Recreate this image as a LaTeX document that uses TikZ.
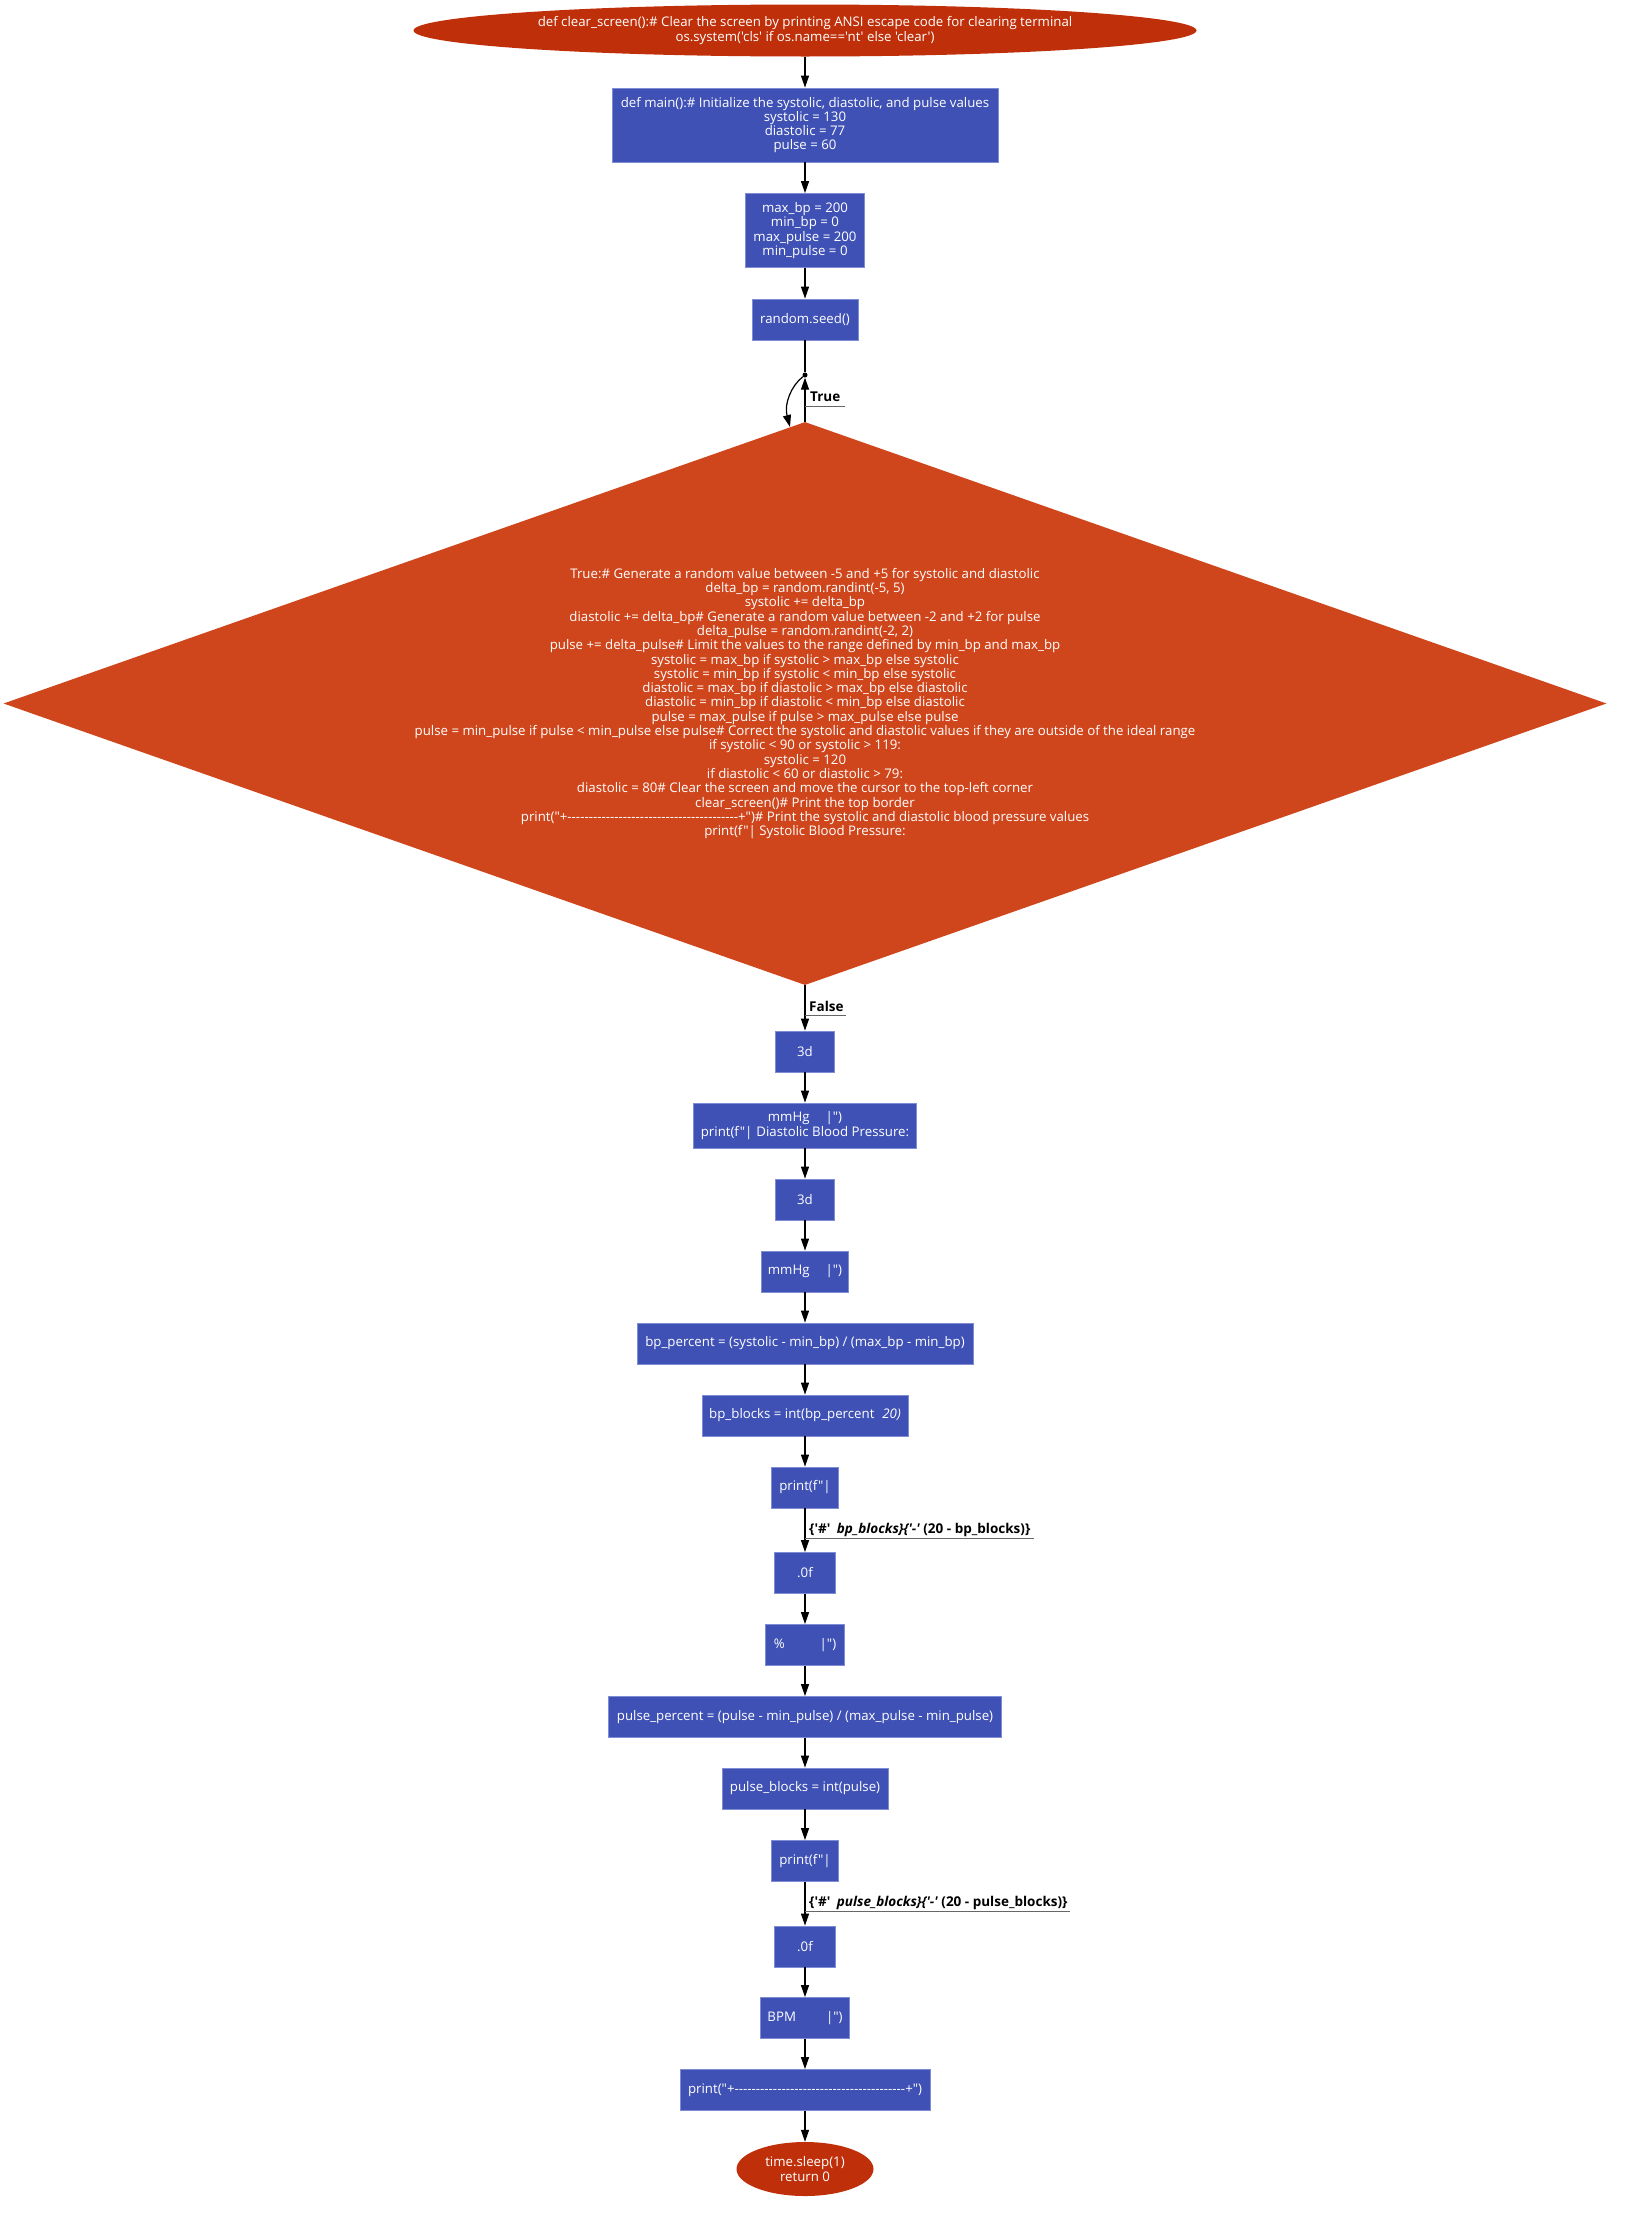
\documentclass[tikz,border=0pt]{standalone}
\usepackage{fontspec}
\setmainfont{Open Sans}[Ligatures=TeXOff]
\usetikzlibrary{shapes.geometric,arrows.meta,calc}
\definecolor{boxblue}{HTML}{3F51B5}
\definecolor{boxline}{HTML}{7F8DD6}
\definecolor{termred}{HTML}{BF300A}
\definecolor{diared}{HTML}{D0461C}
\definecolor{ulgray}{HTML}{666666}
\newcommand\nf{\fontsize{13.25}{14.3}\selectfont}
\newcommand\lf{\fontsize{13.5}{14.3}\selectfont\bfseries}
\tikzset{
  proc/.style={rectangle, fill=boxblue, draw=boxline, line width=0.8pt, text=white, inner sep=0pt, align=center, font=\nf},
  term/.style={ellipse, fill=termred, text=white, inner sep=0pt, align=center, font=\nf},
  dec/.style={diamond, fill=diared, text=white, inner sep=0pt, align=center, aspect=2.85, font=\nf},
  flow/.style={-{Triangle[length=12pt,width=8pt]}, line width=1.2pt, black},
  plain/.style={line width=1.2pt, black},
  elab/.style={font=\lf, inner sep=0pt, anchor=base west},
  ul/.style={line width=1pt, ulgray}
}
\begin{document}
\begin{tikzpicture}[x=1pt,y=-1pt]
\useasboundingbox[fill=white] (0,0) rectangle (1625,2214);

\node[term, minimum width=783pt, minimum height=52pt] (top) at (805,30.5)
 {def clear\_screen():\# Clear the screen by printing ANSI escape code for clearing terminal\\os.system('cls' if os.name=='nt' else 'clear')};
\node[proc, minimum width=386pt, minimum height=74pt] (main) at (805,125)
 {def main():\# Initialize the systolic, diastolic, and pulse values\\systolic = 130\\diastolic = 77\\pulse = 60};
\node[proc, minimum width=119pt, minimum height=74pt] (mx) at (805,230.5)
 {max\_bp = 200\\min\_bp = 0\\max\_pulse = 200\\min\_pulse = 0};
\node[proc, minimum width=106pt, minimum height=41pt] (seed) at (805,319.5) {random.seed()};
\node[circle, fill=black, inner sep=0pt, minimum size=5pt] (dot) at (805,375) {};
\node[dec, minimum width=1603pt, minimum height=563pt] (dia) at (805,703.5)
 {True:\# Generate a random value between -5 and +5 for systolic and diastolic\\
  delta\_bp = random.randint(-5, 5)\\
  systolic += delta\_bp\\
  diastolic += delta\_bp\# Generate a random value between -2 and +2 for pulse\\
  delta\_pulse = random.randint(-2, 2)\\
  pulse += delta\_pulse\# Limit the values to the range defined by min\_bp and max\_bp\\
  systolic = max\_bp if systolic > max\_bp else systolic\\
  systolic = min\_bp if systolic < min\_bp else systolic\\
  diastolic = max\_bp if diastolic > max\_bp else diastolic\\
  diastolic = min\_bp if diastolic < min\_bp else diastolic\\
  pulse = max\_pulse if pulse > max\_pulse else pulse\\
  pulse = min\_pulse if pulse < min\_pulse else pulse\# Correct the systolic and diastolic values if they are outside of the ideal range\\
  if systolic < 90 or systolic > 119:\\
  systolic = 120\\
  if diastolic < 60 or diastolic > 79:\\
  diastolic = 80\# Clear the screen and move the cursor to the top-left corner\\
  clear\_screen()\# Print the top border\\
  print("+----------------------------------------+")\# Print the systolic and diastolic blood pressure values\\
  print(f"| Systolic Blood Pressure:};
\node[proc, minimum width=59pt, minimum height=41pt] (d3a) at (805,1051.5) {3d};
\node[proc, minimum width=223pt, minimum height=45pt] (mm1) at (805,1125.5)
 {mmHg\hspace{16pt}|")\\print(f"|\hspace{4pt}Diastolic Blood Pressure:};
\node[proc, minimum width=59pt, minimum height=41pt] (d3b) at (805,1199.5) {3d};
\node[proc, minimum width=87pt, minimum height=41pt] (mm2) at (805,1271.5) {mmHg\hspace{16pt}|")};
\node[proc, minimum width=336pt, minimum height=41pt] (bpp) at (805,1343.5)
 {bp\_percent = (systolic - min\_bp) / (max\_bp - min\_bp)};
\node[proc, minimum width=206pt, minimum height=41pt] (bpb) at (805,1415.5)
 {bp\_blocks = int(bp\_percent\hspace{8pt}\textit{20)}};
\node[proc, minimum width=67pt, minimum height=41pt] (pr1) at (805,1487.5) {print(f"|};
\node[proc, minimum width=61pt, minimum height=41pt] (of1) at (805,1573) {.0f};
\node[proc, minimum width=79pt, minimum height=41pt] (pct) at (805,1645) {\%\hspace{35pt}|")};
\node[proc, minimum width=393pt, minimum height=41pt] (plp) at (805,1717)
 {pulse\_percent = (pulse - min\_pulse) / (max\_pulse - min\_pulse)};
\node[proc, minimum width=166pt, minimum height=41pt] (plb) at (805,1788.5) {pulse\_blocks = int(pulse)};
\node[proc, minimum width=67pt, minimum height=41pt] (pr2) at (805,1861) {print(f"|};
\node[proc, minimum width=61pt, minimum height=41pt] (of2) at (805,1946.5) {.0f};
\node[proc, minimum width=89pt, minimum height=41pt] (bpm) at (805,2018) {BPM\hspace{30pt}|")};
\node[proc, minimum width=250pt, minimum height=41pt] (brd) at (805,2090)
 {print("+----------------------------------------+")};
\node[term, minimum width=137pt, minimum height=54pt] (fin) at (805,2169) {time.sleep(1)\\return 0};

% edge labels
\node[elab] (lt) at (810,401.5) {True};
\node[elab] (lf) at (809,1011) {False};
\node[elab] (lb1) at (809,1533) {\{'\#'\hspace{3pt}\textit{ bp\_blocks\}\{'-'} (20 - bp\_blocks)\}};
\node[elab] (lb2) at (809,1906.5) {\{'\#'\hspace{3pt}\textit{ pulse\_blocks\}\{'-'} (20 - pulse\_blocks)\}};

\coordinate (tipc) at (790,427);

% connectors
\draw[flow] (top) -- (main);
\draw[flow] (main) -- (mx);
\draw[flow] (mx) -- (seed);
\draw[plain] (seed) -- (dot);
\draw[flow] (dia.north) -- (dot);
\draw[flow] (dot) .. controls (791,386) and (784,404) .. (tipc);
\draw[flow] (dia.south) -- (d3a);
\draw[flow] (d3a) -- (mm1);
\draw[flow] (mm1) -- (d3b);
\draw[flow] (d3b) -- (mm2);
\draw[flow] (mm2) -- (bpp);
\draw[flow] (bpp) -- (bpb);
\draw[flow] (bpb) -- (pr1);
\draw[flow] (pr1) -- (of1);
\draw[flow] (of1) -- (pct);
\draw[flow] (pct) -- (plp);
\draw[flow] (plp) -- (plb);
\draw[flow] (plb) -- (pr2);
\draw[flow] (pr2) -- (of2);
\draw[flow] (of2) -- (bpm);
\draw[flow] (bpm) -- (brd);
\draw[flow] (brd) -- (fin);

% label underlines
\draw[ul] (805,406) -- ($(lt.base east)+(4,4.5)$);
\draw[ul] (805,1015.7) -- ($(lf.base east)+(2,4.7)$);
\draw[ul] (805,1538) -- ($(lb1.base east)+(3,5)$);
\draw[ul] (805,1911) -- ($(lb2.base east)+(2,4.5)$);
\end{tikzpicture}
\end{document}
